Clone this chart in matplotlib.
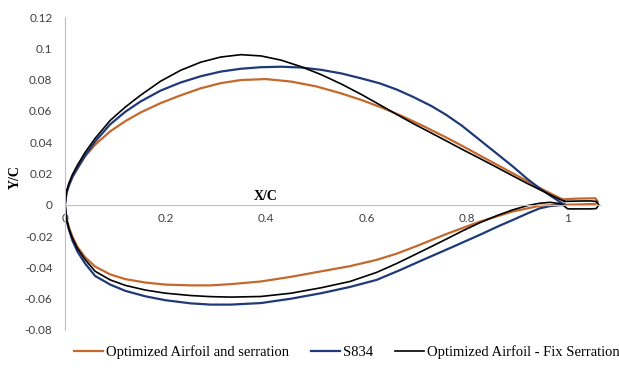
import matplotlib
matplotlib.use("Agg")
import matplotlib.pyplot as plt

# Optimized Airfoil and serration (brown): upper TE->LE, lower LE->TE, then the serration strip
opt_x = [0.99, 0.97, 0.945, 0.91, 0.87, 0.83, 0.80, 0.76, 0.71, 0.67, 0.63, 0.59, 0.55, 0.50, 0.45,
         0.40, 0.35, 0.31, 0.27, 0.23, 0.19, 0.15, 0.12, 0.09, 0.06, 0.04, 0.025, 0.015, 0.008, 0.003, 0.0,
         0.003, 0.008, 0.015, 0.025, 0.04, 0.06, 0.09, 0.12, 0.16, 0.20, 0.25, 0.29, 0.33, 0.39, 0.45,
         0.51, 0.567, 0.62, 0.66, 0.70, 0.76, 0.825, 0.89, 0.945, 0.984,
         1.03, 1.055, 1.06, 1.055, 1.02, 0.99]
opt_y = [0.0035, 0.0066, 0.0107, 0.0168, 0.0238, 0.0307, 0.036, 0.0428, 0.0508, 0.0568, 0.0622, 0.067, 0.0712, 0.0757, 0.0788,
         0.0804, 0.0798, 0.0778, 0.0745, 0.070, 0.065, 0.059, 0.0535, 0.047, 0.0385, 0.031, 0.0235, 0.018, 0.013, 0.008, 0.0,
         -0.009, -0.0145, -0.0205, -0.027, -0.0335, -0.0395, -0.0445, -0.0475, -0.0497, -0.051, -0.0515, -0.0515, -0.0507, -0.049, -0.046,
         -0.0425, -0.0392, -0.0352, -0.0312, -0.0263, -0.0185, -0.0108, -0.0043, -0.0006, 0.0,
         0.0003, 0.0006, 0.002, 0.0042, 0.004, 0.0035]

# S834 (blue)
s834_x = [0.994, 0.984, 0.965, 0.944, 0.92, 0.891, 0.86, 0.825, 0.79, 0.759, 0.73, 0.692, 0.66, 0.626,
          0.59, 0.55, 0.51, 0.47, 0.43, 0.39, 0.35, 0.31, 0.27, 0.23, 0.19, 0.15, 0.12, 0.09, 0.06,
          0.04, 0.025, 0.015, 0.008, 0.003, 0.0,
          0.003, 0.008, 0.015, 0.025, 0.04, 0.06, 0.09, 0.12, 0.16, 0.20, 0.25, 0.29, 0.33, 0.39,
          0.45, 0.51, 0.567, 0.62, 0.666, 0.71, 0.76, 0.80, 0.83, 0.86, 0.89, 0.92, 0.944, 0.965,
          0.984, 0.994]
s834_y = [0.0, 0.002, 0.006, 0.0106, 0.0165, 0.0245, 0.0325, 0.0415, 0.0505, 0.0574, 0.063, 0.0691, 0.0737, 0.0777,
          0.0808, 0.084, 0.0863, 0.0878, 0.0883, 0.088, 0.087, 0.0852, 0.0822, 0.0782, 0.073, 0.066, 0.0595, 0.0515, 0.0405,
          0.0315, 0.0235, 0.018, 0.0125, 0.0075, 0.0,
          -0.0095, -0.016, -0.023, -0.030, -0.0375, -0.0455, -0.051, -0.055, -0.0585, -0.061, -0.063, -0.0638, -0.0638, -0.0628,
          -0.060, -0.0565, -0.0525, -0.048, -0.0418, -0.0355, -0.0285, -0.0228, -0.0185, -0.014, -0.0098, -0.0055, -0.0023, -0.0008,
          -0.0002, 0.0]

# Optimized Airfoil - Fix Serration (black), with the thin serration loop at the trailing edge
fix_x = [0.994, 0.984, 0.965, 0.944, 0.92, 0.891, 0.86, 0.825, 0.79, 0.759, 0.73, 0.692, 0.66, 0.626,
         0.59, 0.55, 0.51, 0.47, 0.43, 0.39, 0.35, 0.31, 0.27, 0.23, 0.19, 0.15, 0.12, 0.09, 0.06,
         0.04, 0.025, 0.015, 0.008, 0.003, 0.0,
         0.003, 0.008, 0.015, 0.025, 0.04, 0.06, 0.09, 0.12, 0.16, 0.20, 0.25, 0.29, 0.33, 0.39,
         0.45, 0.51, 0.567, 0.62, 0.66, 0.69, 0.73, 0.76, 0.79, 0.825, 0.86, 0.891, 0.92, 0.944,
         0.965, 0.984, 0.994, 1.0,
         1.02, 1.045, 1.057, 1.062, 1.057, 1.045, 1.02, 0.994]
fix_y = [0.0022, 0.0036, 0.0065, 0.0098, 0.0136, 0.0185, 0.0238, 0.0297, 0.0355, 0.0408, 0.0457, 0.0521, 0.0578, 0.064,
         0.0705, 0.0772, 0.0832, 0.0883, 0.0925, 0.0952, 0.096, 0.0945, 0.0912, 0.086, 0.079, 0.070, 0.0625, 0.054, 0.0425,
         0.0335, 0.0255, 0.0195, 0.014, 0.0085, 0.0,
         -0.0095, -0.0155, -0.0215, -0.028, -0.035, -0.0425, -0.048, -0.0515, -0.0545, -0.0565, -0.058, -0.0587, -0.059, -0.0586,
         -0.0565, -0.053, -0.049, -0.0432, -0.0375, -0.0328, -0.0265, -0.0217, -0.0168, -0.0115, -0.0068, -0.0032, -0.0005, 0.001,
         0.0016, 0.0008, -0.001, -0.0026,
         -0.0026, -0.0026, -0.0024, 0.0, 0.0022, 0.0025, 0.0024, 0.0022]

labels = ["Optimized Airfoil and serration", "S834", "Optimized Airfoil - Fix Serration"]
colors = ["#C4682B", "#1F3A78", "#000000"]

fig = plt.figure(figsize=(6.19, 3.81), dpi=100)
ax = fig.add_axes([0.105, 0.134, 0.864, 0.821])

ax.plot(opt_x, opt_y, color=colors[0], lw=1.6, label=labels[0])
ax.plot(s834_x, s834_y, color=colors[1], lw=1.6, label=labels[1])
ax.plot(fix_x, fix_y, color=colors[2], lw=1.2, label=labels[2])

ax.set_xlim(0, 1.064)
ax.set_ylim(-0.08, 0.12)
ax.set_xticks([0, 0.2, 0.4, 0.6, 0.8, 1.0])
ax.set_xticklabels(["0", "0.2", "0.4", "0.6", "0.8", "1"])
ax.set_yticks([-0.08, -0.06, -0.04, -0.02, 0, 0.02, 0.04, 0.06, 0.08, 0.1, 0.12])
ax.set_yticklabels(["-0.08", "-0.06", "-0.04", "-0.02", "0", "0.02", "0.04", "0.06", "0.08", "0.1", "0.12"])

for s in ["top", "right"]:
    ax.spines[s].set_visible(False)
ax.spines["left"].set_color("#BFBFBF")
ax.spines["bottom"].set_position(("data", 0))
ax.spines["bottom"].set_color("#BFBFBF")
ax.tick_params(axis="both", length=0, labelsize=8.5, colors="#404040")
ax.tick_params(axis="y", pad=9)
ax.tick_params(axis="x", pad=6)
for t in ax.get_xticklabels() + ax.get_yticklabels():
    t.set_fontfamily("Lato")

ax.text(0.4, 0.001, "X/C", ha="center", va="bottom", fontsize=10, fontweight="bold",
        family="Liberation Serif")
fig.text(0.025, 0.535, "Y/C", rotation=90, ha="center", va="center", fontsize=10,
         fontweight="bold", family="Liberation Serif")

leg = fig.legend(loc="center", bbox_to_anchor=(0.56, 0.075), ncol=3, frameon=False,
                 prop={"family": "Liberation Serif", "size": 10.5}, handlelength=2.0,
                 handletextpad=0.2, columnspacing=1.5)

fig.savefig("out.png", dpi=100)
